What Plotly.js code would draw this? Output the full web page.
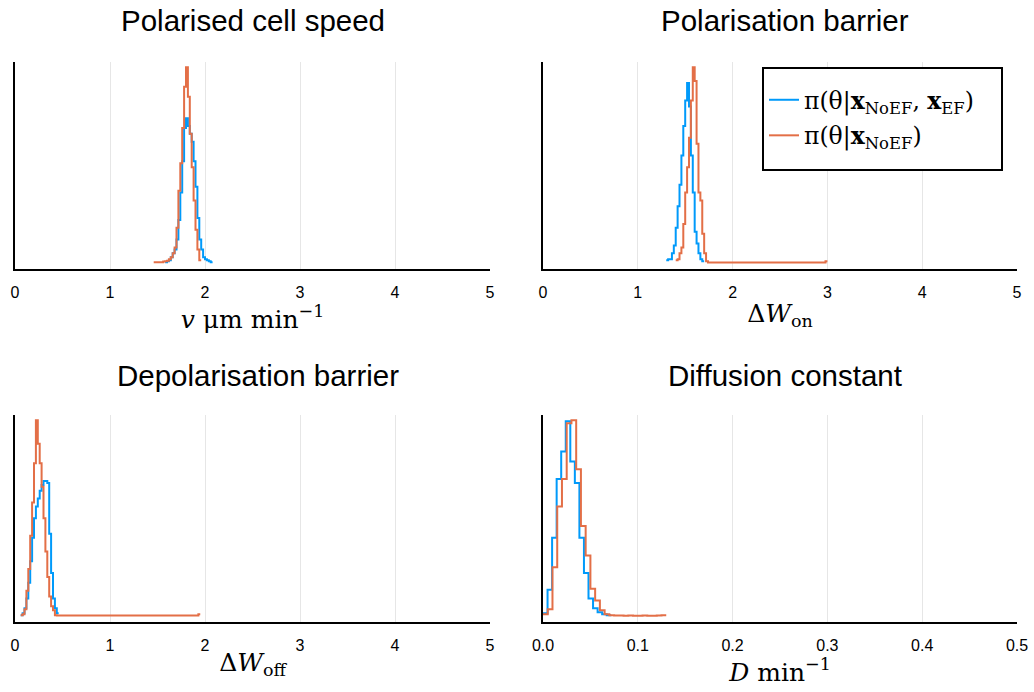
<!DOCTYPE html>
<html>
<head>
<meta charset="utf-8">
<script src="https://cdn.plot.ly/plotly-3.0.1.min.js"></script>
<style>html,body{margin:0;padding:0;background:#fff;}#chart{width:1034px;height:692px;}</style>
</head>
<body>
<div id="chart"></div>
<script>
// ---- Data (relative densities) ----
var panelTitles = ["Polarised cell speed", "Polarisation barrier", "Depolarisation barrier", "Diffusion constant"];
var seriesNames = ["π(θ|<b>x</b><sub>NoEF</sub>, <b>x</b><sub>EF</sub>)", "π(θ|<b>x</b><sub>NoEF</sub>)"];
var xRanges = [[0, 5], [0, 5], [0, 5], [0, 0.5]];
var xTickVals = [[0, 1, 2, 3, 4, 5], [0, 1, 2, 3, 4, 5], [0, 1, 2, 3, 4, 5], [0, 0.1, 0.2, 0.3, 0.4, 0.5]];
var xTickText = [["0", "1", "2", "3", "4", "5"], ["0", "1", "2", "3", "4", "5"], ["0", "1", "2", "3", "4", "5"], ["0.0", "0.1", "0.2", "0.3", "0.4", "0.5"]];

// Panel 1: polarised cell speed
var speedBlueStart = 1.58, speedBlueWidth = 0.02;
var speedBlue = [0.5, 1, 1.5, 3, 5, 7, 12, 22, 36, 52, 69, 74, 70, 66, 62, 52, 39, 23, 12, 7, 3, 2, 1.5, 1, 0.5];
var speedOrangeStart = 1.46, speedOrangeWidth = 0.02;
var speedOrange = [0.4, 0.4, 0.4, 0.5, 0.5, 0.8, 1, 1.2, 2, 3, 5, 8, 18, 37, 51, 69, 90, 100, 85, 66, 49, 32, 17, 7, 1.5];

// Panel 2: polarisation barrier
var onBlueStart = 1.30, onBlueWidth = 0.02;
var onBlue = [1.5, 2, 2, 5, 9, 18, 29, 40, 55, 70, 83, 92, 80, 55, 36, 16, 10, 5, 2, 1];
var onOrangeStart = 1.40, onOrangeWidth = 0.02;
var onOrange = [1.5, 2, 5, 8, 20, 36, 49, 64, 83, 100, 93, 61, 36, 32, 15, 5, 1];
var onOrangeTailEdges = [2.98, 3.0];
var onOrangeTail = [0.3, 1.0];

// Panel 3: depolarisation barrier
var offBlueStart = 0.06, offBlueWidth = 0.02;
var offBlue = [0.5, 1.5, 4, 9, 17, 28, 40, 50, 56, 60, 64, 67, 69, 69, 68, 42, 22, 9, 4, 1.5];
var offOrangeStart = 0.06, offOrangeWidth = 0.02;
var offOrange = [0.5, 1, 3.5, 13, 24, 41, 58, 78, 100, 88, 78, 66, 50, 33, 20, 10, 5, 3, 0.5];
var offOrangeTailEdges = [1.93, 1.95];
var offOrangeTail = [0.3, 1.0];

// Panel 4: diffusion constant
var diffBlueStart = 0.0, diffBlueWidth = 0.0048;
var diffBlue = [1.5, 13.5, 40, 70, 84, 99.5, 79, 68, 40, 22, 9, 4, 2, 1, 0.5];
var diffOrangeStart = 0.0, diffOrangeWidth = 0.005;
var diffOrange = [1, 3.5, 25, 56, 70, 98.5, 100, 75, 46, 31, 14, 8, 3, 1, 0.5, 0.3, 0.3, 0.2, 0.3, 0.2, 0.2, 0.3, 0.2, 0.2, 0.3, 0.4];

var axisLabels = [
  "<i>v</i> μm min<sup>−1</sup>",
  "Δ<i>W</i><sub>on</sub>",
  "Δ<i>W</i><sub>off</sub>",
  "<i>D</i> min<sup>−1</sup>"
];

// ---- Build step outlines ----
function stepXY(start, width, counts, tailEdges, tail) {
  var x = [], y = [];
  for (var i = 0; i < counts.length; i++) { x.push(start + i * width); y.push(counts[i]); }
  var end = start + counts.length * width;
  if (tailEdges) {
    x.push(end); y.push(tail[0]);
    for (var j = 0; j < tailEdges.length; j++) {
      x.push(tailEdges[j]);
      y.push(j + 1 < tail.length ? tail[j + 1] : tail[tail.length - 1]);
    }
  } else {
    x.push(end); y.push(counts[counts.length - 1]);
  }
  return {x: x, y: y};
}

var blue = "#009AFA", orange = "#E36F47";
var serif = "DejaVu Serif, Liberation Serif, serif";
var panels = [
  [stepXY(speedBlueStart, speedBlueWidth, speedBlue), stepXY(speedOrangeStart, speedOrangeWidth, speedOrange)],
  [stepXY(onBlueStart, onBlueWidth, onBlue), stepXY(onOrangeStart, onOrangeWidth, onOrange, onOrangeTailEdges, onOrangeTail)],
  [stepXY(offBlueStart, offBlueWidth, offBlue), stepXY(offOrangeStart, offOrangeWidth, offOrange, offOrangeTailEdges, offOrangeTail)],
  [stepXY(diffBlueStart, diffBlueWidth, diffBlue), stepXY(diffOrangeStart, diffOrangeWidth, diffOrange)]
];

var W = 1034, H = 692;
var xDom = [[15 / W, 490 / W], [543 / W, 1017 / W]];
var yDom = [[1 - 269 / H, 1 - 62 / H], [1 - 622 / H, 1 - 415 / H]];

var traces = [];
var layout = {
  width: W, height: H,
  margin: {l: 0, r: 0, t: 0, b: 0},
  paper_bgcolor: "#fff", plot_bgcolor: "#fff",
  showlegend: true,
  font: {family: "Liberation Sans, Arial, sans-serif", color: "#000"},
  legend: {
    x: 764 / W, y: 1 - 78 / H, xanchor: "left", yanchor: "top",
    bgcolor: "rgba(0,0,0,0)", borderwidth: 0,
    font: {family: serif, size: 23.5, color: "#000"},
    tracegroupgap: 2, traceorder: "grouped"
  },
  annotations: [],
  shapes: [{
    type: "rect", xref: "paper", yref: "paper",
    x0: 763 / W, x1: 1002 / W, y0: 1 - 170 / H, y1: 1 - 68 / H,
    line: {color: "#000", width: 2}, fillcolor: "#fff", layer: "above"
  }]
};

var titleCenters = [[253, 20], [785, 20], [258, 375], [785, 375]];

for (var p = 0; p < 4; p++) {
  var col = p % 2, row = Math.floor(p / 2);
  var sfx = p === 0 ? "" : String(p + 1);
  var pd = panels[p];
  var maxY = 0;
  [0, 1].forEach(function (s) {
    pd[s].y.forEach(function (v) { if (v > maxY) maxY = v; });
  });
  [0, 1].forEach(function (s) {
    traces.push({
      type: "scatter", mode: "lines",
      x: pd[s].x, y: pd[s].y,
      xaxis: "x" + sfx, yaxis: "y" + sfx,
      line: {shape: "hv", color: s === 0 ? blue : orange, width: 2},
      name: seriesNames[s],
      legendgroup: "g" + s,
      showlegend: p === 0,
      hoverinfo: "skip"
    });
  });
  layout["xaxis" + sfx] = {
    domain: xDom[col], anchor: "y" + sfx,
    range: xRanges[p], tickvals: xTickVals[p], ticktext: xTickText[p],
    showgrid: true, gridcolor: "#e6e6e6", gridwidth: 1,
    zeroline: false, showline: true, linecolor: "#000", linewidth: 2,
    ticks: "", ticklabelstandoff: 8,
    tickfont: {size: 16, color: "#000"},
    automargin: false,
    title: {text: axisLabels[p], font: {family: serif, size: 25, color: "#000"}, standoff: row === 0 ? 4 : 0}
  };
  layout["yaxis" + sfx] = {
    domain: yDom[row], anchor: "x" + sfx,
    range: [-0.03 * maxY, 1.027 * maxY],
    showgrid: false, zeroline: false, showticklabels: false, ticks: "",
    showline: true, linecolor: "#000", linewidth: 2, automargin: false
  };
  layout.annotations.push({
    xref: "paper", yref: "paper",
    x: titleCenters[p][0] / W, y: 1 - titleCenters[p][1] / H,
    xanchor: "center", yanchor: "middle", showarrow: false,
    text: panelTitles[p], font: {size: 29.5, color: "#000"}
  });
}

Plotly.newPlot("chart", traces, layout, {staticPlot: true, displayModeBar: false});
</script>
</body>
</html>
